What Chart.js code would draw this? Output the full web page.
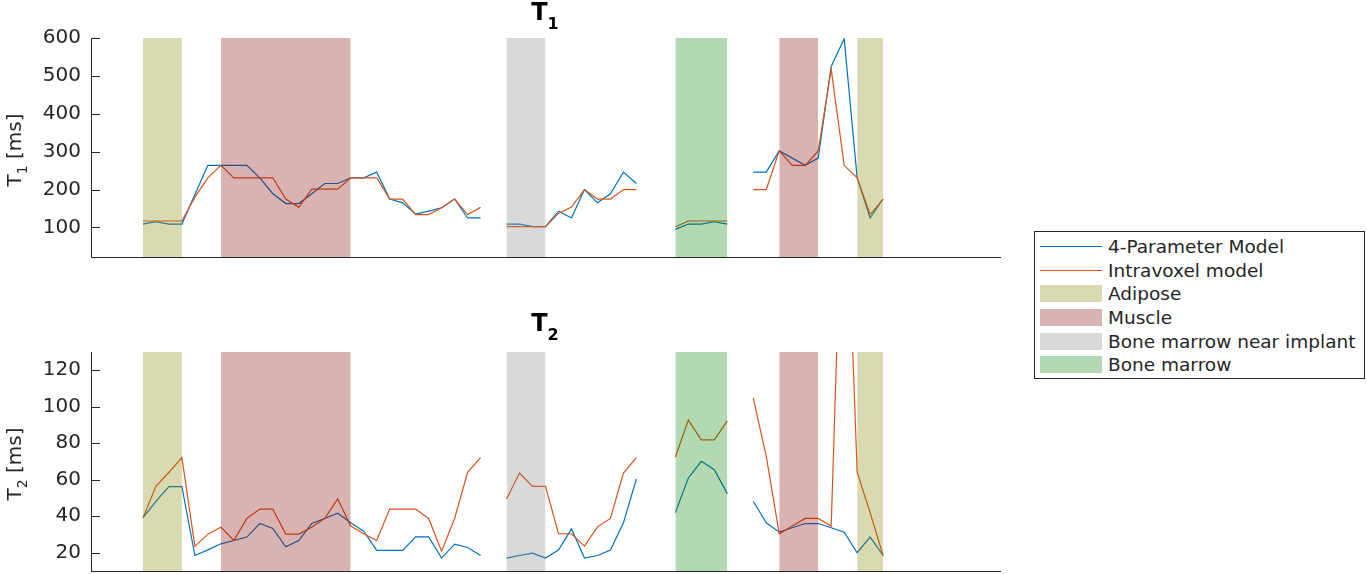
<!DOCTYPE html>
<html lang="en">
<head>
<meta charset="UTF-8">
<title>T1 / T2 per voxel</title>
<script src="https://cdn.jsdelivr.net/npm/chart.js@4"></script>
<style>
    body {
        margin: 0;
        background: #fff;
        width: 1367px;
        height: 574px;
        overflow: hidden;
        position: relative;
        font-family: "DejaVu Sans", sans-serif;
        color: #262626;
    }

    .plot {
        position: absolute;
        left: 0;
        width: 1005px;
    }

    #topBox { top: 0; height: 270px; }
    #bottomBox { top: 307px; height: 267px; }

    .title {
        position: absolute;
        width: 200px;
        margin-left: -100px;
        text-align: center;
        font-weight: bold;
        font-size: 24px;
        line-height: 24px;
        color: #000;
        white-space: nowrap;
    }

    .title sub {
        font-size: 16px;
        vertical-align: -9px;
        line-height: 0;
    }

    .ylabel {
        position: absolute;
        font-size: 20px;
        line-height: 20px;
        white-space: nowrap;
        transform: translate(-50%, -50%) rotate(-90deg);
    }

    .ylabel sub {
        font-size: 14px;
        vertical-align: -6px;
        line-height: 0;
    }

    .legend {
        position: absolute;
        left: 1034px;
        top: 231px;
        width: 331px;
        height: 148px;
        box-sizing: border-box;
        border: 1px solid #262626;
        padding-top: 3px;
        font-size: 18.5px;
    }

    .legend .row {
        display: flex;
        align-items: center;
        height: 23.6px;
        white-space: nowrap;
    }

    .legend .swatch {
        margin-left: 5px;
        width: 62px;
        flex: none;
    }

    .legend .label {
        margin-left: 6px;
    }
</style>
</head>
<body>
    <div class="plot" id="topBox"><canvas id="t1Chart"></canvas></div>
    <div class="plot" id="bottomBox"><canvas id="t2Chart"></canvas></div>

    <div class="title" style="left:545px; top:0px">T<sub>1</sub></div>
    <div class="title" style="left:545px; top:311px">T<sub>2</sub></div>
    <div class="ylabel" style="left:14px; top:150px">T<sub>1</sub> [ms]</div>
    <div class="ylabel" style="left:14px; top:464px">T<sub>2</sub> [ms]</div>

    <div class="legend" id="legend"></div>

<script>
    // voxel index of the first value in every series
    const firstVoxel = 4;

    // T1 [ms], null = no fit for that voxel
    const t1FourParam = [109, 115, 109, 109, 187, 264, 264, 264, 264, 231, 189, 163, 163, 189, 216, 216, 231, 231, 246, 175, 165, 135, 143, 152, 175, 125, 125,
        null, 109, 109, 102, 102, 143, 125, 200, 165, 189, 246, 216,
        null, null, 95, 109, 109, 115, 109,
        null, 246, 246, 302, 283, 264, 283, 525, 598, 231, 125, 175];
    const t1Intravoxel = [117, 117, 117, 117, 180, 231, 264, 231, 231, 231, 231, 175, 153, 201, 201, 201, 231, 231, 231, 175, 175, 134, 134, 152, 175, 134, 153,
        null, 102, 102, 102, 102, 137, 154, 200, 175, 175, 200, 200,
        null, null, 102, 117, 117, 117, 117,
        null, 200, 200, 302, 264, 264, 302, 518, 264, 231, 134, 175];

    // T2 [ms]
    const t2FourParam = [39.1, 48.2, 56.2, 56.2, 18.5, 21.6, 24.9, 26.7, 28.6, 36, 33.3, 23.3, 26.7, 36, 38.8, 41.7, 36.4, 31.8, 21.3, 21.3, 21.3, 28.7, 28.7, 17.1, 24.7, 22.9, 18.5,
        null, 17.1, 18.5, 19.8, 17.1, 21.5, 33.1, 17.1, 18.5, 21.5, 36.4, 60.4,
        null, null, 42, 61, 70.1, 65.5, 52.4,
        null, 48.2, 36.4, 31.3, 33.7, 36, 36, 33.7, 31.3, 20, 28.6, 18.5];
    const t2Intravoxel = [39.1, 56.4, 64.1, 72.1, 23.5, 30.2, 34, 26.7, 38.8, 43.9, 43.9, 30.2, 30.2, 34, 38.8, 49.5, 34.6, 30.4, 26.7, 43.9, 43.9, 43.9, 38.8, 20.9, 38.8, 64.1, 72.1,
        null, 49.5, 63.7, 56.4, 56.4, 30.4, 30.4, 23.6, 34.2, 38.8, 63.7, 72.1,
        null, null, 72.5, 92.7, 81.9, 81.9, 92.3,
        null, 104.7, 72.8, 30.4, 34.6, 38.8, 38.8, 34.6, 260, 64.1, 41.9, 18.5];

    // tissue regions (voxel index ranges)
    const bandTissue = ['Adipose', 'Muscle', 'Bone marrow near implant', 'Bone marrow', 'Muscle', 'Adipose'];
    const bandFrom = [4, 10, 32, 45, 53, 59];
    const bandTo = [7, 20, 35, 49, 56, 61];

    const voxelRange = [0, 70];
    const t1Range = [22, 600];
    const t2Range = [10, 130];
    const t1Ticks = [100, 200, 300, 400, 500, 600];
    const t2Ticks = [20, 40, 60, 80, 100, 120];

    const seriesNames = ['4-Parameter Model', 'Intravoxel model'];
    const seriesColors = ['#0072BD', '#D95319'];
    const tissueNames = ['Adipose', 'Muscle', 'Bone marrow near implant', 'Bone marrow'];
    const tissueRgb = {
        'Adipose': '128, 128, 0',
        'Muscle': '128, 0, 0',
        'Bone marrow near implant': '128, 128, 128',
        'Bone marrow': '0, 128, 0'
    };

    const ink = '#262626';
    const font = 'DejaVu Sans';

    function toPoints(values) {
        return values.map((v, i) => ({ x: firstVoxel + i, y: v }));
    }

    // MATLAB style tick marks pointing into the axes
    const inwardTicks = {
        id: 'inwardTicks',
        afterDraw(chart) {
            const { ctx, chartArea, scales } = chart;
            const y = scales.y;
            ctx.save();
            ctx.strokeStyle = ink;
            ctx.lineWidth = 1;
            y.ticks.forEach(t => {
                const py = Math.round(y.getPixelForValue(t.value)) + 0.5;
                ctx.beginPath();
                ctx.moveTo(chartArea.left, py);
                ctx.lineTo(chartArea.left + 9, py);
                ctx.stroke();
            });
            ctx.restore();
        }
    };

    function makePanel(canvasId, range, tickValues, fourParam, intravoxel, topPad, bottomPad) {
        const datasets = [];
        bandTissue.forEach((tissue, i) => {
            datasets.push({
                data: [{ x: bandFrom[i], y: range[1] }, { x: bandTo[i], y: range[1] }],
                fill: 'start',
                backgroundColor: 'rgba(' + tissueRgb[tissue] + ', 0.3)',
                borderWidth: 0,
                pointRadius: 0,
                order: 0
            });
        });
        datasets.push({
            label: seriesNames[0],
            data: toPoints(fourParam),
            borderColor: seriesColors[0],
            borderWidth: 1.2,
            pointRadius: 0,
            tension: 0,
            spanGaps: false,
            fill: false,
            order: 2
        });
        datasets.push({
            label: seriesNames[1],
            data: toPoints(intravoxel),
            borderColor: seriesColors[1],
            borderWidth: 1.2,
            pointRadius: 0,
            tension: 0,
            spanGaps: false,
            fill: false,
            order: 1
        });

        return new Chart(document.getElementById(canvasId), {
            type: 'line',
            data: { datasets: datasets },
            plugins: [inwardTicks],
            options: {
                responsive: true,
                maintainAspectRatio: false,
                animation: false,
                events: [],
                layout: { padding: { left: 0, right: 5, top: topPad, bottom: bottomPad } },
                plugins: {
                    legend: { display: false },
                    tooltip: { enabled: false },
                    title: { display: false }
                },
                scales: {
                    x: {
                        type: 'linear',
                        min: voxelRange[0],
                        max: voxelRange[1],
                        ticks: { display: false },
                        grid: { display: false },
                        border: { display: true, color: ink, width: 1 },
                        afterFit: s => { s.height = 0; }
                    },
                    y: {
                        min: range[0],
                        max: range[1],
                        afterBuildTicks: s => { s.ticks = tickValues.map(v => ({ value: v })); },
                        ticks: {
                            color: ink,
                            padding: 10,
                            font: { family: font, size: 20 }
                        },
                        grid: {
                            display: true,
                            drawOnChartArea: false,
                            drawTicks: false
                        },
                        border: { display: true, color: ink, width: 1 },
                        afterFit: s => {
                            s.width = 91;
                            s.paddingTop = 0;
                            s.paddingBottom = 0;
                        }
                    }
                }
            }
        });
    }

    makePanel('t1Chart', t1Range, t1Ticks, t1FourParam, t1Intravoxel, 38, 13);
    makePanel('t2Chart', t2Range, t2Ticks, t2FourParam, t2Intravoxel, 45, 3);

    // legend
    const legend = document.getElementById('legend');
    seriesNames.forEach((name, i) => {
        legend.insertAdjacentHTML('beforeend',
            '<div class="row"><div class="swatch" style="height:1.2px;background:' + seriesColors[i] + '"></div>' +
            '<span class="label">' + name + '</span></div>');
    });
    tissueNames.forEach(name => {
        legend.insertAdjacentHTML('beforeend',
            '<div class="row"><div class="swatch" style="height:17px;background:rgba(' + tissueRgb[name] + ',0.3)"></div>' +
            '<span class="label">' + name + '</span></div>');
    });
</script>
</body>
</html>
